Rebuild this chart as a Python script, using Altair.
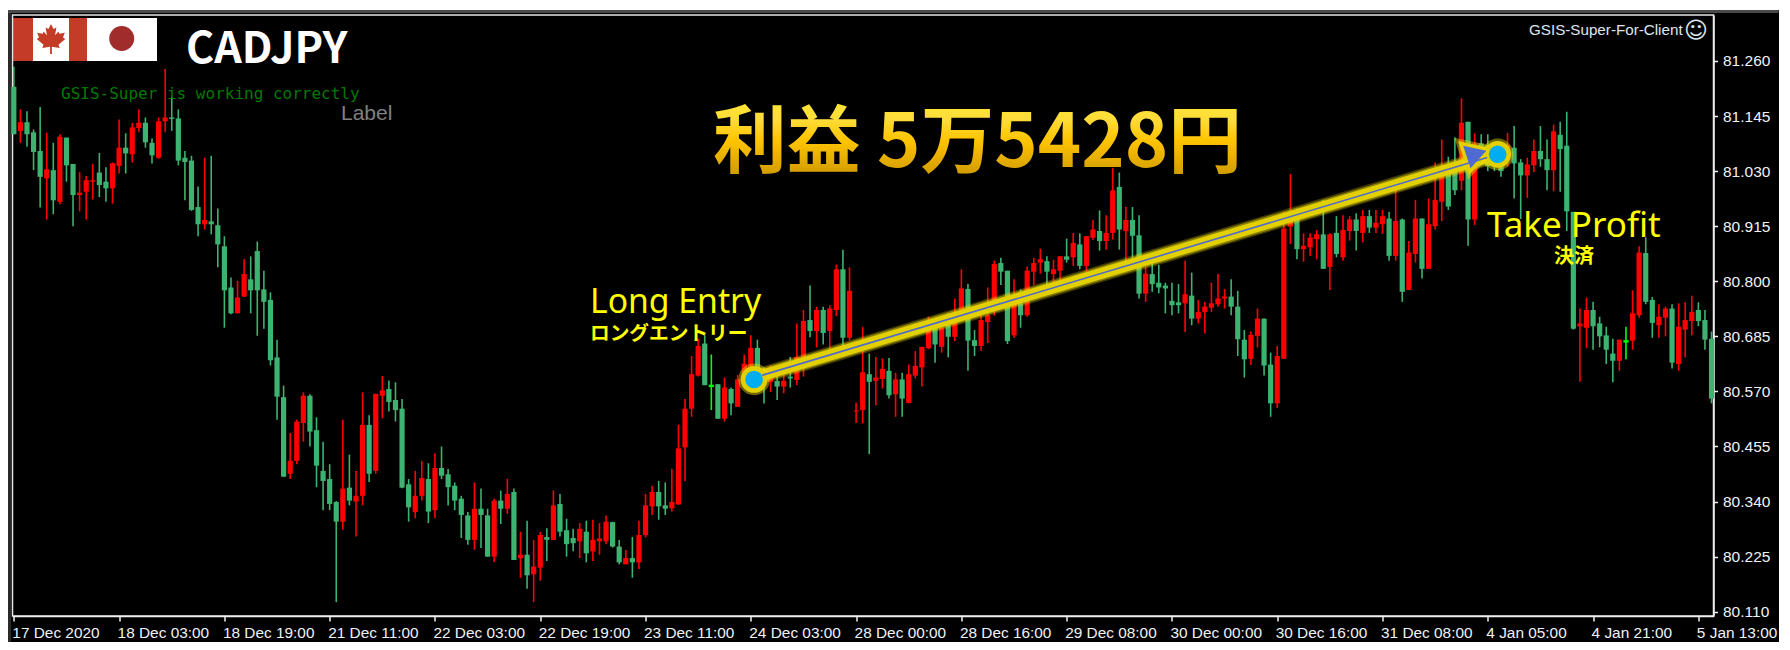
import altair as alt
import pandas as pd

highs = [
81.248,81.159,81.155,81.117,81.164,81.110,81.089,81.107,81.100,81.045,
81.028,81.020,81.045,81.068,81.038,81.048,81.138,81.109,81.131,81.159,
81.142,81.098,81.142,81.243,81.185,81.159,81.072,81.062,80.998,81.058,
81.062,80.952,80.894,80.808,80.801,80.846,80.852,80.883,80.822,80.777,
80.678,80.582,80.483,80.511,80.568,80.564,80.516,80.465,80.418,80.341,
80.511,80.438,80.404,80.568,80.520,80.565,80.602,80.593,80.589,80.554,
80.387,80.404,80.425,80.420,80.441,80.455,80.408,80.380,80.352,80.318,
80.380,80.367,80.325,80.346,80.363,80.387,80.367,80.277,80.300,80.260,
80.277,80.284,80.363,80.356,80.304,80.283,80.295,80.300,80.302,80.295,
80.311,80.298,80.260,80.239,80.266,80.300,80.356,80.373,80.383,80.380,
80.408,80.500,80.554,80.644,80.680,80.687,80.647,80.585,80.599,80.578,
80.604,80.647,80.687,80.678,80.620,80.625,80.614,80.604,80.642,80.712,
80.740,80.791,80.747,80.747,80.750,80.835,80.866,80.829,80.547,80.705,
80.649,80.642,80.639,80.640,80.609,80.609,80.626,80.654,80.663,80.726,
80.708,80.712,80.733,80.764,80.825,80.795,80.698,80.733,80.787,80.843,
80.849,80.822,80.804,80.783,80.831,80.849,80.868,80.852,80.845,80.852,
80.889,80.901,80.900,80.894,80.928,80.948,80.938,81.037,81.027,80.955,
80.955,80.938,80.830,80.837,80.834,80.797,80.797,80.794,80.843,80.818,
80.761,80.757,80.797,80.815,80.784,80.804,80.780,80.698,80.695,80.743,
80.722,80.651,80.665,80.945,81.024,80.952,80.900,80.900,80.907,80.970,
80.900,80.936,80.938,80.936,80.942,80.949,80.949,80.949,80.949,80.945,
80.994,80.931,80.884,80.970,80.931,80.973,81.048,81.096,81.060,81.100,
81.182,81.133,81.109,81.107,81.107,81.090,81.070,81.110,81.124,81.055,
81.058,81.096,81.124,81.096,81.127,81.133,81.154,80.945,80.743,80.766,
80.757,80.726,80.705,80.680,80.678,80.705,80.781,80.873,80.892,80.767,
80.752,80.747,80.752,80.754,80.756,80.770,80.756,80.740,80.695]

lows = [
81.107,81.089,81.081,81.032,80.954,80.929,80.940,80.961,81.008,80.915,
80.946,80.929,80.971,80.976,80.966,80.962,81.025,81.025,81.048,81.111,
81.079,81.046,81.056,81.111,81.114,81.042,80.969,80.947,80.894,80.908,
80.898,80.829,80.703,80.731,80.733,80.768,80.733,80.686,80.701,80.624,
80.511,80.391,80.387,80.418,80.465,80.455,80.370,80.322,80.322,80.130,
80.281,80.332,80.267,80.332,80.381,80.398,80.514,80.528,80.507,80.368,
80.298,80.305,80.342,80.295,80.305,80.387,80.332,80.322,80.264,80.250,
80.239,80.243,80.225,80.213,80.293,80.314,80.218,80.181,80.158,80.130,
80.175,80.216,80.260,80.267,80.225,80.236,80.222,80.213,80.216,80.229,
80.251,80.244,80.209,80.209,80.181,80.199,80.265,80.312,80.302,80.312,
80.319,80.333,80.383,80.517,80.601,80.583,80.531,80.513,80.507,80.520,
80.538,80.590,80.605,80.585,80.545,80.569,80.552,80.566,80.578,80.583,
80.601,80.683,80.662,80.668,80.656,80.727,80.642,80.677,80.504,80.503,
80.439,80.541,80.576,80.555,80.517,80.517,80.545,80.597,80.580,80.658,
80.630,80.651,80.641,80.675,80.736,80.613,80.644,80.655,80.671,80.728,
80.792,80.669,80.682,80.703,80.726,80.792,80.816,80.775,80.792,80.802,
80.839,80.832,80.825,80.820,80.886,80.864,80.866,80.887,80.866,80.833,
80.837,80.764,80.757,80.778,80.775,80.733,80.729,80.733,80.694,80.708,
80.712,80.691,80.736,80.747,80.743,80.729,80.644,80.599,80.625,80.662,
80.603,80.517,80.535,80.638,80.878,80.846,80.841,80.853,80.846,80.826,
80.782,80.850,80.843,80.885,80.864,80.881,80.901,80.901,80.899,80.843,
80.843,80.757,80.782,80.839,80.806,80.826,80.908,80.926,80.949,80.980,
80.990,80.874,80.917,81.050,81.030,81.030,81.018,81.039,80.973,80.930,
80.974,81.028,81.039,80.990,80.988,80.987,80.905,80.699,80.590,80.661,
80.657,80.662,80.627,80.589,80.613,80.637,80.657,80.724,80.752,80.682,
80.682,80.685,80.618,80.613,80.641,80.687,80.706,80.657,80.545]

body_tops = [
81.206,81.132,81.132,81.111,81.072,81.034,81.032,81.102,81.100,81.045,
80.985,81.011,81.011,81.027,81.008,81.046,81.079,81.079,81.121,81.131,
81.131,81.089,81.134,81.142,81.142,81.140,81.058,81.052,80.955,80.928,
80.925,80.917,80.873,80.787,80.766,80.815,80.804,80.863,80.783,80.761,
80.641,80.558,80.425,80.507,80.561,80.561,80.489,80.404,80.387,80.339,
80.367,80.369,80.352,80.500,80.500,80.565,80.572,80.575,80.552,80.534,
80.376,80.352,80.389,80.387,80.410,80.410,80.397,80.373,80.346,80.311,
80.325,80.325,80.311,80.342,80.342,80.356,80.360,80.229,80.229,80.204,
80.270,80.266,80.332,80.335,80.280,80.264,80.283,80.277,80.260,80.263,
80.298,80.297,80.246,80.222,80.222,80.270,80.332,80.360,80.360,80.332,
80.339,80.451,80.534,80.606,80.665,80.670,80.584,80.585,80.578,80.575,
80.595,80.628,80.661,80.661,80.611,80.604,80.592,80.592,80.601,80.642,
80.717,80.719,80.740,80.740,80.743,80.825,80.825,80.780,80.530,80.610,
80.606,80.599,80.617,80.613,80.595,80.595,80.606,80.623,80.663,80.708,
80.705,80.703,80.719,80.729,80.785,80.784,80.677,80.719,80.729,80.836,
80.838,80.822,80.757,80.754,80.822,80.838,80.846,80.842,80.825,80.852,
80.852,80.880,80.877,80.894,80.908,80.905,80.901,80.990,80.997,80.928,
80.928,80.896,80.816,80.815,80.797,80.791,80.759,80.756,80.773,80.770,
80.736,80.747,80.754,80.764,80.768,80.768,80.747,80.678,80.688,80.722,
80.722,80.626,80.644,80.910,80.931,80.931,80.874,80.891,80.898,80.898,
80.898,80.901,80.907,80.929,80.929,80.936,80.936,80.922,80.936,80.931,
80.926,80.929,80.860,80.931,80.931,80.919,80.970,81.030,81.032,81.039,
81.131,81.133,81.088,81.088,81.084,81.075,81.050,81.084,81.079,81.048,
81.044,81.072,81.072,81.055,81.113,81.106,81.083,80.945,80.712,80.740,
80.740,80.712,80.687,80.649,80.678,80.677,80.733,80.860,80.859,80.761,
80.726,80.743,80.743,80.705,80.719,80.736,80.740,80.719,80.680]

body_bottoms = [
81.107,81.114,81.107,81.070,81.018,81.015,80.969,80.966,81.042,80.980,
80.980,80.987,81.008,81.001,80.994,80.994,81.041,81.067,81.065,81.120,
81.090,81.063,81.058,81.134,81.139,81.052,81.049,80.949,80.919,80.919,
80.919,80.877,80.781,80.733,80.733,80.768,80.781,80.781,80.757,80.635,
80.559,80.392,80.398,80.425,80.504,80.486,80.415,80.383,80.335,80.298,
80.298,80.342,80.340,80.352,80.398,80.404,80.561,80.548,80.531,80.369,
80.328,80.318,80.352,80.319,80.322,80.394,80.370,80.342,80.312,80.260,
80.260,80.312,80.225,80.225,80.325,80.325,80.218,80.222,80.186,80.188,
80.202,80.260,80.260,80.277,80.251,80.253,80.257,80.232,80.236,80.257,
80.257,80.246,80.213,80.209,80.213,80.213,80.270,80.330,80.330,80.325,
80.326,80.334,80.453,80.534,80.603,80.583,80.582,80.513,80.513,80.545,
80.538,80.594,80.618,80.597,80.590,80.590,80.580,80.580,80.597,80.594,
80.632,80.696,80.696,80.692,80.696,80.740,80.682,80.682,80.528,80.531,
80.590,80.592,80.596,80.562,80.564,80.555,80.546,80.603,80.620,80.660,
80.668,80.663,80.684,80.684,80.740,80.676,80.665,80.665,80.715,80.747,
80.820,80.675,80.687,80.729,80.729,80.820,80.839,80.820,80.815,80.822,
80.845,80.850,80.832,80.832,80.891,80.884,80.884,80.901,80.908,80.905,
80.895,80.774,80.774,80.794,80.787,80.785,80.750,80.750,80.754,80.722,
80.722,80.736,80.745,80.752,80.764,80.747,80.679,80.637,80.638,80.686,
80.624,80.545,80.545,80.638,80.914,80.867,80.867,80.871,80.888,80.826,
80.830,80.857,80.850,80.905,80.905,80.901,80.912,80.912,80.919,80.853,
80.853,80.778,80.782,80.857,80.826,80.826,80.915,80.966,80.956,80.990,
81.010,80.929,80.929,81.067,81.040,81.045,81.030,81.053,81.046,81.021,
81.021,81.042,81.055,81.032,81.032,81.076,80.946,80.701,80.706,80.703,
80.706,80.685,80.657,80.634,80.634,80.675,80.676,80.729,80.757,80.713,
80.708,80.724,80.630,80.627,80.699,80.717,80.717,80.678,80.555]

# R = up candle, G = down candle, D = doji
directions = list(
"GRGGGRGRGG" "RRRGGRRGRR" "GGRRGGGGGR" "GGGGRRGGGG"
"GGRRRGGGGG" "RGRRGRRGGG" "GRRGRGGGGG" "RGGRGRGRGR"
"RGRGGGRGRR" "RGGRGRRRGG" "RRRRRGDGRG" "RRRGGRGRGR"
"RGRGRRGRRR" "GRRGRGRRRR" "GRGRRGGRRR" "GGRGRRRGRR"
"GRGRRGRRGR" "GGRGGGGGRG" "RRRRRGGGRR" "GGRRRGRRRG"
"RGRRGRGRRG" "RGRRGRRRGG" "RGRGGGGRGG" "RRGGRGGGRR"
"GGGGRDRRGG" "RRGRRRGGG")

price_ticks = [80.110,80.225,80.340,80.455,80.570,80.685,80.800,80.915,81.030,81.145,81.260]
time_ticks = list(range(0, 257, 16))
time_labels = ["17 Dec 2020","18 Dec 03:00","18 Dec 19:00","21 Dec 11:00","22 Dec 03:00","22 Dec 19:00",
               "23 Dec 11:00","24 Dec 03:00","28 Dec 00:00","28 Dec 16:00","29 Dec 08:00","30 Dec 00:00",
               "30 Dec 16:00","31 Dec 08:00","4 Jan 05:00","4 Jan 21:00","5 Jan 13:00"]

entry_bar, entry_price = 112.5, 80.595
exit_bar, exit_price = 225.5, 81.065
arrow_bars = [113.8, 223.8]
arrow_prices = [80.604, 81.058]
head_bar, head_price = [222.3], [81.066]

assert len(highs) == len(lows) == len(body_tops) == len(body_bottoms) == len(directions) == 259

df = pd.DataFrame({"bar": range(259), "high": highs, "low": lows, "top": body_tops,
                   "bottom": body_bottoms, "dir": directions})
df.loc[df["dir"] == "D", "bottom"] -= 0.003

VX, VY = 12.5, 15.0   # page position of the plot area
W, H = 1701, 601
xs = alt.Scale(domain=[-0.2, 258.3], nice=False, zero=False)
ys = alt.Scale(domain=[80.101, 81.356], nice=False, zero=False)
cs = alt.Scale(domain=["R", "G", "D"], range=["#ff0000", "#3cb371", "#00ff00"])

label_expr = "[" + ",".join(f"'{t}'" for t in time_labels) + "][round(datum.value/16)]"
axis_font = "Liberation Sans"
x_axis = alt.Axis(values=time_ticks, labelExpr=label_expr, labelAlign="left", labelOffset=-2,
                  labelPadding=4, tickSize=5, tickColor="#f0f0f0", tickWidth=1.5, domainColor="#f0f0f0",
                  domainWidth=1.5, labelColor="#eef2f6", labelFont=axis_font, labelFontSize=15.4,
                  labelOverlap=False, labelFlush=False, labelBound=False, grid=False, title=None)
y_axis = alt.Axis(values=price_ticks, format=".3f", orient="right", tickSize=4, tickColor="#f0f0f0", tickWidth=1.5,
                  domainColor="#f0f0f0", domainWidth=1.5, labelColor="#eef2f6", labelFont=axis_font,
                  labelFontSize=15.5, labelPadding=5, labelOverlap=False, labelFlush=False, labelBound=False,
                  grid=False, title=None)

X = lambda f: alt.X(f, scale=xs, axis=x_axis)
Y = lambda f: alt.Y(f, scale=ys, axis=y_axis)

wicks = alt.Chart(df).mark_rule(strokeWidth=1.6).encode(
    x=X("bar:Q"), y=Y("low:Q"), y2="high:Q", color=alt.Color("dir:N", scale=cs, legend=None))
bodies = alt.Chart(df).mark_rule(strokeWidth=5.2).encode(
    x=X("bar:Q"), y=Y("bottom:Q"), y2="top:Q", color=alt.Color("dir:N", scale=cs, legend=None))

one = pd.DataFrame({"a": [0]})

def box(x0, x1, y0, y1, color):
    return alt.Chart(one).mark_rect(color=color).encode(
        x=alt.value(x0 - VX), x2=alt.value(x1 - VX), y=alt.value(y0 - VY), y2=alt.value(y1 - VY))

def blob(sx, sy, size, color, **kw):
    return alt.Chart(one).mark_point(filled=True, size=size, color=color, opacity=1, **kw).encode(
        x=alt.value(sx - VX), y=alt.value(sy - VY))

def label(text, sx, sy, **kw):
    return alt.Chart(pd.DataFrame({"t": [text]})).mark_text(**kw).encode(
        x=alt.value(sx - VX), y=alt.value(sy - VY), text="t:N")

maple = ("M0,-1 L0.17,-0.66 L0.36,-0.77 L0.27,-0.25 L0.5,-0.5 L0.55,-0.35 L0.92,-0.42 L0.8,-0.1 L0.95,0 "
         "L0.5,0.38 L0.58,0.6 L0.06,0.52 L0.06,1 L-0.06,1 L-0.06,0.52 L-0.58,0.6 L-0.5,0.38 L-0.95,0 L-0.8,-0.1 "
         "L-0.92,-0.42 L-0.55,-0.35 L-0.5,-0.5 L-0.27,-0.25 L-0.36,-0.77 L-0.17,-0.66 Z")

frame = [
    box(8, 1790, 8, 10, "#ffffff"),
    box(8, 1778.5, 10, 13, "#4a4a4a"),
    box(8, 11, 13, 642, "#2a2a2a"),
    box(13.5, 157, 18, 61, "#ffffff"),
    box(13.5, 33, 18, 61, "#c43c28"),
    box(69, 87, 18, 61, "#c43c28"),
    blob(51, 39, 900, "#c43c28", shape=maple),
    blob(121.7, 38.5, 625, "#a02c2c", shape="circle"),
]

arrow_df = pd.DataFrame({"bar": arrow_bars, "price": arrow_prices})
def arrow_line(width, color, opacity=1.0):
    return alt.Chart(arrow_df).mark_line(strokeWidth=width, color=color, opacity=opacity, strokeCap="round").encode(
        x=X("bar:Q"), y=Y("price:Q"))

def marker(bar, price, size, color, opacity=1.0):
    d = pd.DataFrame({"bar": [bar], "price": [price]})
    return alt.Chart(d).mark_point(filled=True, shape="circle", size=size, color=color, opacity=opacity).encode(
        x=X("bar:Q"), y=Y("price:Q"))

def head(fill, stroke=None, sw=0, opacity=1.0):
    d = pd.DataFrame({"bar": head_bar, "price": head_price})
    return alt.Chart(d).mark_point(filled=True, shape="triangle-right", size=560, angle=342, fill=fill,
                                   stroke=stroke or fill, strokeWidth=sw, opacity=opacity).encode(
        x=X("bar:Q"), y=Y("price:Q"))

YEL, YEL2 = "#eedd00", "#e2d000"
glow = [
    arrow_line(17, YEL, 0.25), arrow_line(14, YEL, 0.45), arrow_line(11, YEL2),
    head(YEL, YEL, 12, 0.45), head(YEL2, YEL2, 7),
    marker(entry_bar, entry_price, 1000, YEL, 0.45), marker(exit_bar, exit_price, 1000, YEL, 0.45),
    marker(entry_bar, entry_price, 720, YEL2), marker(exit_bar, exit_price, 720, YEL2),
    arrow_line(1.6, "#4f6bd0"), head("#4f6bd0"),
    marker(entry_bar, entry_price, 310, "#00aeef"), marker(exit_bar, exit_price, 310, "#00aeef"),
]

gold = alt.LinearGradient(gradient="linear", x1=0, x2=0, y1=0, y2=1, stops=[
    alt.GradientStop(offset=0.0, color="#fff02e"), alt.GradientStop(offset=0.35, color="#ffdc3a"),
    alt.GradientStop(offset=0.55, color="#ffc400"), alt.GradientStop(offset=1.0, color="#c08c00")])

texts = [
    label("CADJPY", 186, 63, color="#ffffff", font="Noto Sans CJK JP", fontWeight="bold", fontSize=43, align="left", baseline="alphabetic"),
    label("GSIS-Super is working correctly", 61, 98.5, color="#007a00", font="DejaVu Sans Mono", fontSize=16, align="left", baseline="alphabetic"),
    label("Label", 341, 120, color="#808080", font="Liberation Sans", fontSize=21, align="left", baseline="alphabetic"),
    label("利益 5万5428円", 713, 167, fill=gold, font="Noto Sans CJK JP", fontWeight="bold", fontSize=73.7, align="left", baseline="alphabetic"),
    label("Long Entry", 590, 313, color="#ffff00", font="Noto Sans", fontSize=33.7, align="left", baseline="alphabetic"),
    label("ロングエントリー", 590, 334, color="#ffff00", font="Noto Sans CJK JP", fontWeight="bold", fontSize=19.7, align="left", baseline="middle"),
    label("Take Profit", 1487, 237, color="#ffff00", font="Noto Sans", fontSize=35, align="left", baseline="alphabetic"),
    label("決済", 1574, 257, color="#ffff00", font="Noto Sans CJK JP", fontWeight="bold", fontSize=20, align="center", baseline="middle"),
    label("GSIS-Super-For-Client", 1529, 30, color="#dce6f0", font="Liberation Sans", fontSize=15.2, align="left", baseline="middle"),
    label("☺", 1696, 31, color="#dce6f0", font="DejaVu Sans", fontSize=23, align="center", baseline="middle"),
]

chart = alt.layer(wicks, bodies, *frame, *glow, *texts).properties(
    width=W, height=H, background="#000000",
    padding={"left": VX - 8, "top": VY - 8, "right": 65, "bottom": 26},
    autosize=alt.AutoSizeParams(type="none"),
).configure_view(stroke="#e8e8e8", strokeWidth=1.5)

chart.save("out.html", embed_options={"renderer": "svg", "actions": False})
